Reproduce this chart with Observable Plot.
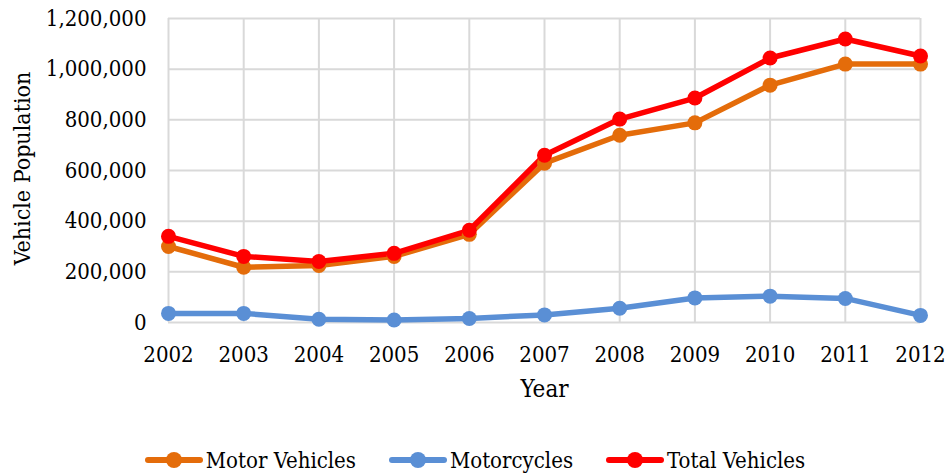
<!DOCTYPE html>
<html>
<head>
<meta charset="utf-8">
<script src="https://cdn.jsdelivr.net/npm/d3@7"></script>
<script src="https://cdn.jsdelivr.net/npm/@observablehq/plot@0.6"></script>
<style>
  body { margin: 0; background: #fff; font-family: "DejaVu Serif", serif; }
  #chart { width: 949px; height: 420px; }
  .legend { display: flex; justify-content: center; align-items: center; height: 40px; margin-top: 20px; font-family: "DejaVu Serif Condensed", "DejaVu Serif", serif; font-stretch: condensed; font-size: 22px; color: #000; }
  .legend .item { display: flex; align-items: center; margin: 0 16px; }
  .legend svg { margin-right: 2px; }
</style>
</head>
<body>
<div id="chart"></div>
<script>
const years = [2002, 2003, 2004, 2005, 2006, 2007, 2008, 2009, 2010, 2011, 2012];
const motorVehicles = [300000, 218000, 225000, 261000, 348000, 629000, 739000, 788000, 937000, 1020000, 1020000];
const motorcycles = [36000, 36000, 13000, 10000, 16000, 30000, 56000, 97000, 104000, 95000, 28000];
const totalVehicles = [340000, 261000, 241000, 273000, 364000, 660000, 803000, 886000, 1044000, 1119000, 1052000];
const seriesNames = ["Motor Vehicles", "Motorcycles", "Total Vehicles"];
const seriesColors = ["#E46C0A", "#5A8FD5", "#FF0000"];
const yTicks = [0, 200000, 400000, 600000, 800000, 1000000, 1200000];

const seriesValues = [motorVehicles, motorcycles, totalVehicles];
const data = [];
seriesNames.forEach((name, i) => {
  years.forEach((y, j) => data.push({series: name, year: y, value: seriesValues[i][j]}));
});

const condensed = "DejaVu Serif Condensed";
const plot = Plot.plot({
  width: 949,
  height: 420,
  marginLeft: 168,
  marginRight: 29,
  marginTop: 18,
  marginBottom: 98,
  style: { fontFamily: "DejaVu Serif", fontSize: "20px", color: "#000", background: "#fff", overflow: "visible" },
  x: { domain: [2002, 2012], ticks: years, tickFormat: "d" },
  y: { domain: [0, 1200000], ticks: yTicks, tickFormat: d3.format(",") },
  color: { domain: seriesNames, range: seriesColors },
  marks: [
    Plot.gridX(years, { stroke: "#D9D9D9", strokeOpacity: 1, strokeWidth: 2 }),
    Plot.gridY(yTicks, { stroke: "#D9D9D9", strokeOpacity: 1, strokeWidth: 2 }),
    Plot.axisX({ ticks: years, tickSize: 0, tickPadding: 24, tickFormat: "d", label: null, fontSize: 22, fontFamily: condensed }),
    Plot.axisY({ ticks: yTicks, tickSize: 0, tickPadding: 22, tickFormat: d3.format(","), label: null, fontSize: 22, fontFamily: condensed }),
    Plot.text(["Year"], { frameAnchor: "bottom", dy: 74, fontSize: 24, fontFamily: condensed, fill: "#000" }),
    Plot.text(["Vehicle Population"], { frameAnchor: "left", textAnchor: "middle", rotate: -90, dx: -146, dy: -2, fontSize: 23, fontFamily: condensed, fill: "#000" }),
    Plot.line(data, { x: "year", y: "value", z: "series", stroke: "series", strokeWidth: 5.5, strokeLinejoin: "round", strokeLinecap: "round" }),
    Plot.dot(data, { x: "year", y: "value", fill: "series", r: 7.5, stroke: null })
  ]
});
document.getElementById("chart").appendChild(plot);

const legend = document.createElement("div");
legend.className = "legend";
seriesNames.forEach((name, i) => {
  const item = document.createElement("div");
  item.className = "item";
  item.innerHTML = `<svg width="60" height="22"><line x1="4" y1="11" x2="56" y2="11" stroke="${seriesColors[i]}" stroke-width="6" stroke-linecap="round"/><circle cx="30" cy="11" r="8" fill="${seriesColors[i]}"/></svg><span>${name}</span>`;
  legend.appendChild(item);
});
document.body.appendChild(legend);
</script>
</body>
</html>
